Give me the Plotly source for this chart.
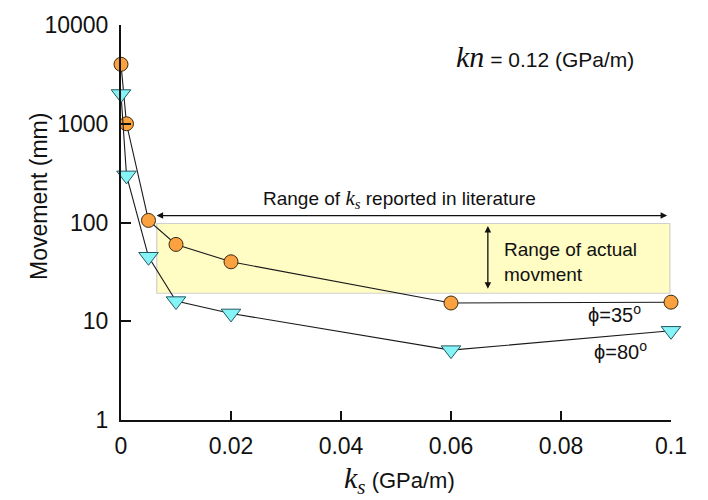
import plotly.graph_objects as go

# ---- data ----
ks = [0, 0.001, 0.005, 0.01, 0.02, 0.06, 0.1]
mov_phi35 = [4000, 1000, 105, 60, 40, 15.3, 15.6]
mov_phi80 = [2000, 300, 45, 16, 12, 5.1, 8.0]

y_tickvals = [1, 10, 100, 1000, 10000]
y_ticktext = ["1", "10", "100", "1000", "10000"]
x_tickvals = [0, 0.02, 0.04, 0.06, 0.08, 0.1]
x_ticktext = ["0", "0.02", "0.04", "0.06", "0.08", "0.1"]

# literature range of ks and actual movement range
ks_lit_range = [0.0065, 0.0998]
actual_mov_range = [19.2, 97.7]

SANS = "Liberation Sans, Arial, Helvetica, sans-serif"
SERIF = "Liberation Serif, Times New Roman, serif"

fig = go.Figure()

fig.add_trace(go.Scatter(
    x=ks, y=mov_phi35, mode="lines+markers", name="phi=35",
    line=dict(color="#1a1a1a", width=1.1),
    marker=dict(symbol="circle", size=14, color="#F9A23F",
                line=dict(color="#3a2a10", width=1)),
    cliponaxis=False, showlegend=False))

fig.add_trace(go.Scatter(
    x=ks, y=mov_phi80, mode="lines+markers", name="phi=80",
    line=dict(color="#1a1a1a", width=1.1),
    marker=dict(symbol="triangle-down", size=17, color="#86F3F7",
                line=dict(color="#205a60", width=1)),
    cliponaxis=False, showlegend=False))

# yellow box
fig.add_shape(type="rect", xref="x", yref="y",
              x0=ks_lit_range[0], x1=ks_lit_range[1],
              y0=actual_mov_range[0], y1=actual_mov_range[1],
              fillcolor="#FFFCC4", line=dict(color="#cfcfcf", width=1.2),
              layer="below")

# horizontal double arrow (log coordinates for annotations)
fig.add_annotation(xref="x", yref="y", axref="x", ayref="y",
                   x=0.0993, y=2.07, ax=0.0062, ay=2.07, text="",
                   showarrow=True, arrowhead=2, startarrowhead=2,
                   arrowside="end+start", arrowwidth=1.3, arrowsize=1,
                   startarrowsize=1, arrowcolor="#111")
fig.add_annotation(xref="x", yref="y", x=0.0507, y=2.235,
                   text="Range of <span style='font-family:Liberation Serif;font-style:italic;font-size:21px'>k<sub>s</sub></span> reported in literature",
                   showarrow=False, font=dict(family=SANS, size=19, color="#111"))

# vertical double arrow
fig.add_annotation(xref="x", yref="y", axref="x", ayref="y",
                   x=0.0667, y=1.965, ax=0.0667, ay=1.315, text="",
                   showarrow=True, arrowhead=2, startarrowhead=2,
                   arrowside="end+start", arrowwidth=1.3, arrowsize=1,
                   startarrowsize=1, arrowcolor="#111")
fig.add_annotation(xref="x", yref="y", x=0.0692, y=1.60,
                   text="Range of actual<br>movment", align="left",
                   xanchor="left", showarrow=False,
                   font=dict(family=SANS, size=19, color="#111"))

# phi labels
fig.add_annotation(xref="x", yref="y", x=0.0897, y=1.075,
                   text="ϕ=35<sup>o</sup>", showarrow=False,
                   font=dict(family=SANS, size=20, color="#111"))
fig.add_annotation(xref="x", yref="y", x=0.0909, y=0.70,
                   text="ϕ=80<sup>o</sup>", showarrow=False,
                   font=dict(family=SANS, size=20, color="#111"))

# kn annotation
fig.add_annotation(xref="paper", yref="paper", x=0.605, y=0.92,
                   xanchor="left", yanchor="middle", showarrow=False,
                   text="<span style='font-family:Liberation Serif;font-style:italic;font-size:30px'>kn</span> = 0.12 (GPa/m)",
                   font=dict(family=SANS, size=21, color="#111"))

# axis titles
fig.add_annotation(xref="paper", yref="paper", x=0.507, y=-0.152,
                   showarrow=False, yanchor="middle",
                   text="<span style='font-family:Liberation Serif;font-style:italic;font-size:30px'>k<sub>s</sub></span> (GPa/m)",
                   font=dict(family=SANS, size=22, color="#111"))
fig.add_annotation(xref="paper", yref="paper", x=-0.176, y=0.565,
                   showarrow=False, textangle=-90,
                   text="Movement (mm)",
                   font=dict(family=SANS, size=23, color="#111"))

fig.update_xaxes(range=[0, 0.1], tickvals=x_tickvals, ticktext=x_ticktext,
                 ticks="inside", ticklen=9, tickwidth=2, tickcolor="#111",
                 showline=True, linecolor="#111", linewidth=2,
                 showgrid=False, zeroline=False, ticklabelstandoff=4,
                 tickfont=dict(family=SANS, size=23, color="#111"))
fig.update_yaxes(type="log", range=[0, 4], tickvals=y_tickvals,
                 ticktext=y_ticktext,
                 ticks="inside", ticklen=10, tickwidth=2, tickcolor="#111",
                 showline=True, linecolor="#111", linewidth=2,
                 showgrid=False, zeroline=False, ticklabelstandoff=6,
                 tickfont=dict(family=SANS, size=23, color="#111"))

fig.update_layout(width=708, height=500,
                  margin=dict(l=121, r=37, t=18, b=80),
                  plot_bgcolor="white", paper_bgcolor="white",
                  showlegend=False)

fig.write_html("out.html")
